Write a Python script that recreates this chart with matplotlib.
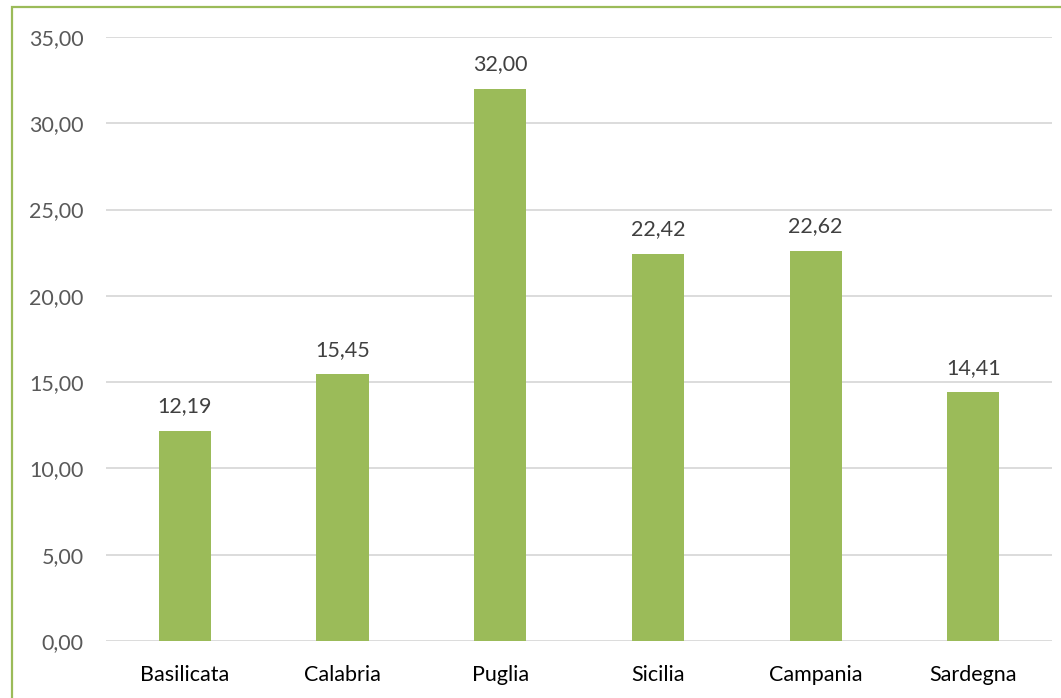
import matplotlib.pyplot as plt
from matplotlib.patches import Rectangle

regions = ['Basilicata', 'Calabria', 'Puglia', 'Sicilia', 'Campania', 'Sardegna']
values = [12.19, 15.45, 32.00, 22.42, 22.62, 14.41]

plt.rcParams['font.family'] = ['Lato', 'DejaVu Sans']


def fmt(v):
    return f'{v:.2f}'.replace('.', ',')


fig = plt.figure(figsize=(10.61, 6.98), dpi=100)
ax = fig.add_axes([0.0999, 0.0817, 0.8917, 0.8653])

x = range(len(regions))
ax.bar(x, values, width=0.33, color='#9BBB59', zorder=3)

for i, v in enumerate(values):
    ax.text(i, v + 0.85, fmt(v), ha='center', va='bottom', fontsize=15.5, color='#404040')

ax.set_ylim(0, 35)
ax.set_xlim(-0.5, len(regions) - 0.5)
ax.set_yticks([0, 5, 10, 15, 20, 25, 30, 35])
ax.set_yticklabels([fmt(t) for t in ax.get_yticks()], fontsize=15.5, color='#595959')
ax.set_xticks(list(x))
ax.set_xticklabels(regions, fontsize=15.5, color='#000000')
ax.tick_params(axis='both', length=0)
ax.tick_params(axis='y', pad=16)
ax.tick_params(axis='x', pad=17.5)
ax.grid(axis='y', color='#D9D9D9', linewidth=1.3, zorder=0)
for s in ax.spines.values():
    s.set_visible(False)

# chart frame
fig.patches.append(Rectangle((12 / 1061, -0.05), 1.2, 1 - 7 / 698 + 0.05,
                             transform=fig.transFigure, fill=False,
                             edgecolor='#9BBB59', linewidth=1.6))

fig.savefig('out.png', dpi=100)
